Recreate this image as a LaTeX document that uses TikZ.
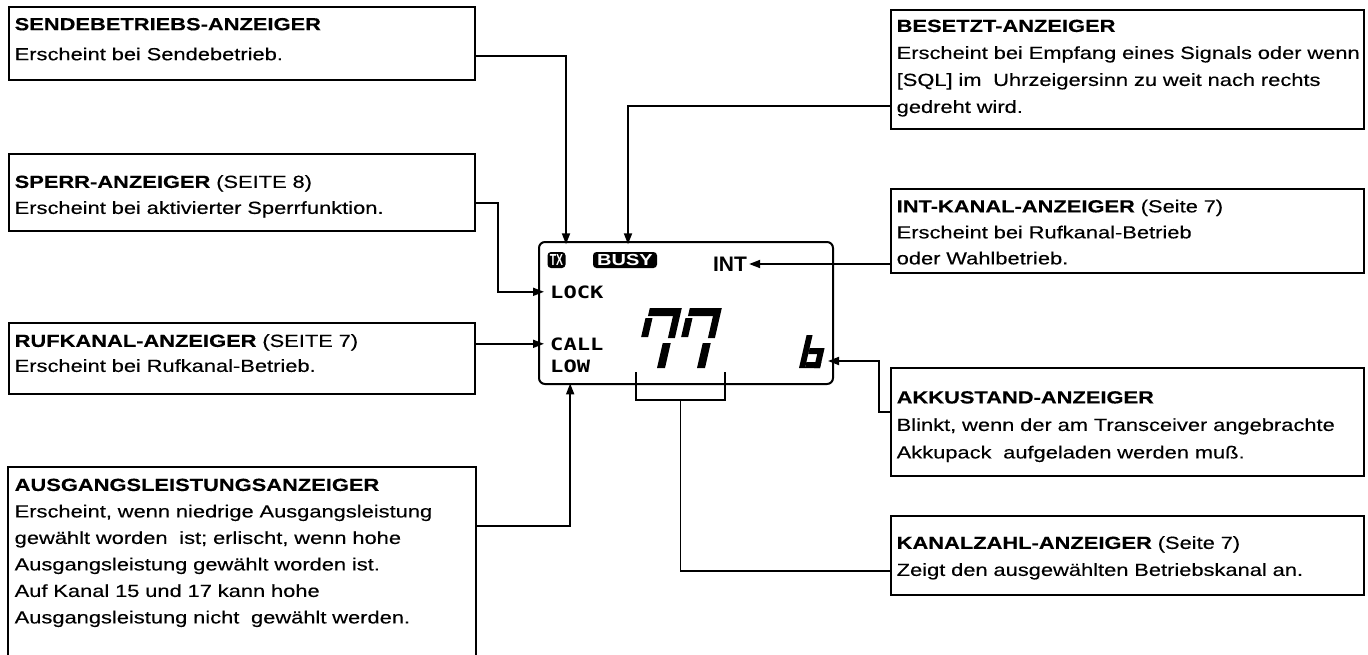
\documentclass[tikz,border=0pt]{standalone}
\usepackage{fontspec}
\setmainfont{Liberation Sans}[FakeStretch=1.25, FakeBold=0.3]
\newfontfamily\lcdsans{Liberation Sans}
\newfontfamily\lcdmono{DejaVu Sans Mono}[FakeStretch=1.3]
\usepackage{tikz}
\usetikzlibrary{arrows.meta}

% one slanted segment of the LCD digits: x0, u-range, v-range
\newcommand{\lcdseg}[5]{%
  \fill ({#1+#2+0.23*(368-#4)},#4) -- ({#1+#3+0.23*(368-#4)},#4)
    -- ({#1+#3+0.23*(368-#5)},#5) -- ({#1+#2+0.23*(368-#5)},#5) -- cycle;}

\begin{document}
\begin{tikzpicture}[x=1pt, y=-1pt,
    infobox/.style={draw, line width=1.8pt, anchor=north west, inner sep=0pt},
    leftbox/.style={infobox, minimum width=466pt},
    rightbox/.style={infobox, minimum width=473pt},
    boxtext/.style={anchor=north west, align=left, inner sep=0pt, text width=470pt, font=\fontsize{17.5}{#1}\selectfont},
    boxtext/.default=26.5,
    conn/.style={line width=1.8pt, -{Triangle[length=11pt,width=8pt]}},
    wire/.style={line width=1.8pt},
    badge/.style={fill=black, text=white, rounded corners=3.5pt, inner sep=0pt, minimum height=16pt, font=\lcdsans\bfseries\fontsize{16}{16}\selectfont},
    lcdlabel/.style={anchor=base west, inner xsep=6pt, inner ysep=3pt, font=\lcdmono\bfseries\fontsize{17}{17}\selectfont}]

    \useasboundingbox (0,0) rectangle (1368,654);

    % ===== LEFT BOXES =====
    \node[leftbox, minimum height=73pt] (send) at (8,6) {};
    \node[boxtext=30] (sendtxt) at (14.5,17.8)
        {\textbf{SENDEBETRIEBS-ANZEIGER}\\Erscheint bei Sendebetrieb.};

    \node[leftbox, minimum height=77pt] (sperr) at (8,153) {};
    \node[boxtext=26] (sperrtxt) at (14.5,175)
        {\textbf{SPERR-ANZEIGER} (SEITE 8)\\Erscheint bei aktivierter Sperrfunktion.};

    \node[leftbox, minimum height=71pt] (ruf) at (8,322) {};
    \node[boxtext=25] (ruftxt) at (14.5,334)
        {\textbf{RUFKANAL-ANZEIGER} (SEITE 7)\\Erscheint bei Rufkanal-Betrieb.};

    % open at the bottom edge
    \node[leftbox, draw=none, minimum height=200pt] (ausg) at (8,467) {};
    \draw[wire] (ausg.west |- 0,660) -- (ausg.north west) -- (ausg.north east) -- (ausg.east |- 0,660);
    \node[boxtext] (ausgtxt) at (14.5,478.5)
        {\textbf{AUSGANGSLEISTUNGSANZEIGER}\\Erscheint, wenn niedrige Ausgangsleistung\\gewählt worden\ \ ist; erlischt, wenn hohe\\Ausgangsleistung gewählt worden ist.\\Auf Kanal 15 und 17 kann hohe\\Ausgangsleistung nicht\ \ gewählt werden.};

    % ===== RIGHT BOXES =====
    \node[rightbox, minimum height=119pt] (bes) at (890,9) {};
    \node[boxtext=27] (bestxt) at (896.5,19.5)
        {\textbf{BESETZT-ANZEIGER}\\Erscheint bei Empfang eines Signals oder wenn\\{[SQL]} im\ \ Uhrzeigersinn zu weit nach rechts\\gedreht wird.};

    \node[rightbox, minimum height=84pt] (intb) at (890,188) {};
    \node[boxtext=26] (intbtxt) at (896.5,199.5)
        {\textbf{INT-KANAL-ANZEIGER} (Seite 7)\\Erscheint bei Rufkanal-Betrieb\\oder Wahlbetrieb.};

    \node[rightbox, minimum height=108pt] (akku) at (890,367) {};
    \node[boxtext=27.5] (akkutxt) at (896.5,391)
        {\textbf{AKKUSTAND-ANZEIGER}\\Blinkt, wenn der am Transceiver angebrachte\\Akkupack\ \ aufgeladen werden muß.};

    \node[rightbox, minimum height=79pt] (kanal) at (890,515) {};
    \node[boxtext=27] (kanaltxt) at (896.5,536)
        {\textbf{KANALZAHL-ANZEIGER} (Seite 7)\\Zeigt den ausgewählten Betriebskanal an.};

    % ===== LCD =====
    \node[draw, line width=2pt, rounded corners=6pt, minimum width=294pt, minimum height=142pt, inner sep=0pt] (lcd) at (686,313) {};
    \node[badge, minimum width=18pt] (tx) at (556.5,260) {\scalebox{0.65}[1]{TX}};
    \node[badge, minimum width=64pt] (busy) at (625,260) {\scalebox{1.25}[1]{BUSY}};
    \node[font=\lcdsans\bfseries\fontsize{21}{21}\selectfont, inner xsep=2pt, inner ysep=0pt] (int) at (730,264) {INT};
    \node[lcdlabel] (lock) at (544,298) {LOCK};
    \node[lcdlabel] (call) at (544,350) {CALL};
    \node[lcdlabel] (low) at (544,372) {LOW};

    % channel digits "77"
    \foreach \dx in {634,674} {
        \lcdseg{\dx}{2}{31}{308}{316}
        \lcdseg{\dx}{0}{7}{318}{337}
        \lcdseg{\dx}{27}{34}{308}{338}
        \lcdseg{\dx}{23}{31}{343}{368}
    }
    \node[minimum width=89pt, minimum height=64pt, inner sep=0pt] (chan) at (680.5,340) {};

    % battery "b"
    \lcdseg{799}{0}{6}{335}{368}
    \lcdseg{799}{6}{21}{348}{354}
    \lcdseg{799}{15}{21}{354}{368}
    \lcdseg{799}{6}{21}{362}{368}
    \coordinate (batt) at (828,361);

    % ===== CONNECTORS =====
    \draw[conn] ([yshift=-12.5pt]send.east) -| ([xshift=9.5pt,yshift=7.5pt]tx.north);
    \draw[conn] ([yshift=-36.5pt]bes.west) -| ([xshift=3pt,yshift=7.5pt]busy.north);
    \draw[conn] ([yshift=-10.5pt]sperr.east) -- ++(22,0) |- (lock.west);
    \draw[conn] (int.east -| intb.west) -- (int.east);
    \draw[conn] (call.west -| ruf.east) -- (call.west);
    \draw[conn] ([yshift=10pt]akku.west) -- ++(-11,0) |- (batt);
    \draw[conn] ([yshift=-59pt]ausg.north east) -| ([yshift=-8pt]low.south);
    \draw[wire] (chan.south west) -- ++(0,28) -| (chan.south east);
    \draw[wire] ([yshift=-28pt]chan.south) |- ([yshift=-15.5pt]kanal.west);

\end{tikzpicture}
\end{document}
